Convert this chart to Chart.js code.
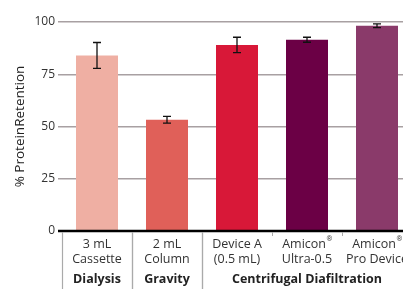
<!DOCTYPE html>
<html>
<head>
<meta charset="utf-8">
<script src="https://cdn.jsdelivr.net/npm/chart.js@4"></script>
<style>
  html, body { margin: 0; padding: 0; background: #fff; overflow: hidden; }
  #wrap { width: 412px; height: 289px; position: relative; }
</style>
</head>
<body>
<div id="wrap"><canvas id="chart"></canvas></div>
<script>
// Dados do gráfico
const labelLine1 = ['3 mL', '2 mL', 'Device A', 'Amicon®', 'Amicon®'];
const labelLine2 = ['Cassette', 'Column', '(0.5 mL)', 'Ultra-0.5', 'Pro Device'];
const retention = [84, 53.2, 89, 91.5, 98.2];
const errors = [6.2, 1.6, 3.7, 1.2, 0.9];
const barColors = ['#EFAFA3', '#E06059', '#D81838', '#6B0045', '#8A3A6A'];
const groupNames = ['Dialysis', 'Gravity', 'Centrifugal Diafiltration'];
const groupStart = [0, 1, 2];
const groupEnd = [0, 1, 4];
const yTicks = [0, 25, 50, 75, 100];

const FONT = '"Open Sans", sans-serif';

// Barras de erro
const errorBars = {
    id: 'errorBars',
    afterDatasetsDraw(chart) {
        const ctx = chart.ctx;
        const meta = chart.getDatasetMeta(0);
        const y = chart.scales.y;
        ctx.save();
        ctx.strokeStyle = '#111';
        ctx.lineWidth = 1.3;
        meta.data.forEach((bar, i) => {
            const top = y.getPixelForValue(retention[i] + errors[i]);
            const bot = y.getPixelForValue(retention[i] - errors[i]);
            ctx.beginPath();
            ctx.moveTo(bar.x, top); ctx.lineTo(bar.x, bot);
            ctx.moveTo(bar.x - 4, top); ctx.lineTo(bar.x + 4, top);
            ctx.moveTo(bar.x - 4, bot); ctx.lineTo(bar.x + 4, bot);
            ctx.stroke();
        });
        ctx.restore();
    }
};

// Escreve texto com "®" em expoente pequeno
function drawLabel(ctx, text, cx, cy) {
    const parts = text.split('®');
    ctx.font = '12.5px ' + FONT;
    const w = ctx.measureText(parts[0]).width;
    if (parts.length === 1) {
        ctx.textAlign = 'center';
        ctx.fillText(text, cx, cy);
        return;
    }
    ctx.font = '7px ' + FONT;
    const ws = ctx.measureText('®').width;
    const start = cx - (w + ws) / 2;
    ctx.textAlign = 'left';
    ctx.font = '12.5px ' + FONT;
    ctx.fillText(parts[0], start, cy);
    ctx.font = '7px ' + FONT;
    ctx.fillText('®', start + w + 0.5, cy - 5);
}

// Eixo zero, rótulos, separadores e nomes dos grupos
const groupLabels = {
    id: 'groupLabels',
    afterDraw(chart) {
        const ctx = chart.ctx;
        const x = chart.scales.x;
        const area = chart.chartArea;
        const half = (x.getPixelForValue(1) - x.getPixelForValue(0)) / 2;
        ctx.save();
        // linha zero
        ctx.strokeStyle = '#000';
        ctx.lineWidth = 2.5;
        ctx.beginPath();
        ctx.moveTo(area.left - 4, area.bottom);
        ctx.lineTo(area.right + 10, area.bottom);
        ctx.stroke();
        // rótulos das categorias
        ctx.fillStyle = '#333';
        ctx.textBaseline = 'middle';
        labelLine1.forEach((t, i) => {
            const cx = x.getPixelForValue(i);
            drawLabel(ctx, t, cx, area.bottom + 13);
            drawLabel(ctx, labelLine2[i], cx, area.bottom + 28);
        });
        // pequenas marcas entre categorias
        ctx.strokeStyle = '#aaa';
        ctx.lineWidth = 1;
        for (let i = 1; i < labelLine1.length; i++) {
            const px = Math.round(x.getPixelForValue(i) - half) + 0.5;
            ctx.beginPath();
            ctx.moveTo(px, area.bottom + 1);
            ctx.lineTo(px, area.bottom + 5);
            ctx.stroke();
        }
        // separadores de grupo
        ctx.lineWidth = 1.2;
        groupNames.forEach((name, g) => {
            const left = x.getPixelForValue(groupStart[g]) - half;
            const right = x.getPixelForValue(groupEnd[g]) + half;
            [left, right].forEach(px => {
                ctx.beginPath();
                ctx.moveTo(Math.round(px) + 0.5, area.bottom + 1);
                ctx.lineTo(Math.round(px) + 0.5, chart.height);
                ctx.stroke();
            });
            const cx = (x.getPixelForValue(groupStart[g]) + x.getPixelForValue(groupEnd[g])) / 2;
            ctx.fillStyle = '#222';
            ctx.font = 'bold 12.5px ' + FONT;
            ctx.textAlign = 'center';
            ctx.fillText(name, cx, area.bottom + 48);
        });
        ctx.restore();
    }
};

new Chart(document.getElementById('chart'), {
    type: 'bar',
    data: {
        labels: labelLine1,
        datasets: [{
            data: retention,
            backgroundColor: barColors,
            borderWidth: 0,
            barPercentage: 0.6,
            categoryPercentage: 1
        }]
    },
    options: {
        responsive: true,
        maintainAspectRatio: false,
        animation: false,
        layout: { padding: { top: 22, right: 0, left: 0, bottom: 0 } },
        plugins: { legend: { display: false }, tooltip: { enabled: false } },
        scales: {
            x: {
                grid: { display: false },
                border: { display: false },
                ticks: { display: false },
                afterFit(scale) { scale.height = 58; }
            },
            y: {
                min: 0,
                max: 100,
                afterBuildTicks(scale) { scale.ticks = yTicks.map(v => ({ value: v })); },
                grid: {
                    color: ctx => ctx.tick && ctx.tick.value === 0 ? 'rgba(0,0,0,0)' : '#a8a0a2',
                    lineWidth: 1.5,
                    tickLength: 4,
                    drawTicks: true
                },
                border: { display: false },
                ticks: {
                    color: '#333',
                    font: { family: FONT, size: 12 },
                    padding: 3
                },
                title: {
                    display: true,
                    text: '% ProteinRetention',
                    color: '#222',
                    font: { family: FONT, size: 13.5 },
                    padding: { top: 12, bottom: 0 }
                },
                afterFit(scale) { scale.width = 62; }
            }
        }
    },
    plugins: [errorBars, groupLabels]
});
</script>
</body>
</html>
